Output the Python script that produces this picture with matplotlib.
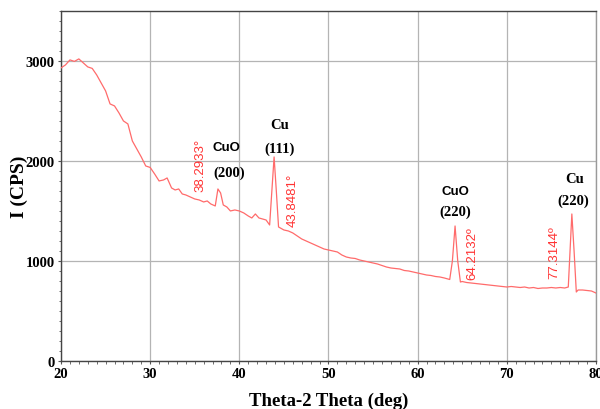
import numpy as np
import matplotlib
matplotlib.use("Agg")
from matplotlib import pyplot as plt
from matplotlib.ticker import MultipleLocator

# XRD pattern (2theta in deg, intensity in CPS)
two_theta = [20.0, 20.5, 21.0, 21.5, 22.0, 22.5, 23.0, 23.5, 24.0, 24.5,
             25.0, 25.5, 26.0, 26.5, 27.0, 27.5, 28.0, 28.5, 29.0, 29.5,
             30.0, 30.5, 31.0, 31.5, 31.9, 32.4, 32.8, 33.2, 33.6, 34.0,
             34.5, 35.0, 35.5, 36.0, 36.4, 36.8, 37.3, 37.6, 37.9, 38.2,
             38.6, 39.0, 39.5, 40.0, 40.5, 41.0, 41.4, 41.8, 42.2, 42.6,
             43.0, 43.4, 43.65, 43.9, 44.15, 44.4, 45.0, 45.5, 46.0, 46.5,
             47.0, 47.5, 48.0, 48.5, 49.0, 49.5, 50.0, 50.5, 51.0, 51.5,
             52.0, 52.5, 53.0, 53.5, 54.0, 54.5, 55.0, 55.5, 56.0, 56.5,
             57.0, 57.5, 58.0, 58.5, 59.0, 59.5, 60.0, 60.5, 61.0, 61.5,
             62.0, 62.5, 63.0, 63.6, 63.9, 64.2, 64.5, 64.8, 65.0, 65.5,
             66.0, 66.5, 67.0, 67.5, 68.0, 68.5, 69.0, 69.5, 70.0, 70.5,
             71.0, 71.5, 72.0, 72.5, 73.0, 73.5, 74.0, 74.5, 75.0, 75.5,
             76.0, 76.5, 76.9, 77.1, 77.3, 77.55, 77.8, 78.0, 78.5, 79.0,
             79.5, 80.0]
intensity = [2930, 2960, 3010, 2995, 3020, 2980, 2940, 2925, 2860, 2780,
             2700, 2570, 2550, 2480, 2400, 2370, 2200, 2120, 2040, 1950,
             1935, 1870, 1800, 1810, 1830, 1730, 1710, 1720, 1670, 1660,
             1640, 1620, 1610, 1590, 1600, 1570, 1550, 1720, 1680, 1560,
             1540, 1500, 1510, 1500, 1480, 1450, 1430, 1470, 1430, 1420,
             1410, 1360, 1700, 2040, 1700, 1340, 1310, 1300, 1280, 1250,
             1220, 1200, 1180, 1160, 1140, 1120, 1110, 1100, 1090, 1060,
             1040, 1030, 1025, 1010, 1000, 990, 980, 970, 955, 940,
             930, 925, 920, 905, 900, 890, 880, 870, 860, 855,
             845, 840, 830, 815, 1000, 1350, 1000, 790, 795, 785,
             780, 775, 770, 765, 760, 755, 750, 745, 740, 745,
             740, 735, 740, 730, 735, 725, 730, 730, 735, 730,
             735, 730, 740, 1100, 1470, 1100, 690, 710, 710, 705,
             700, 680]

peak_labels = ["38.2933\u00b0", "43.8481\u00b0", "64.2132\u00ba", "77.3144\u00ba"]
peak_label_pos = [(35.6, 1970), (46.0, 1620), (66.1, 1080), (75.3, 1090)]

phase_names = ["CuO", "Cu", "CuO", "Cu"]
phase_name_pos = [(38.6, 2140), (44.5, 2360), (64.2, 1700), (77.6, 1820)]
hkl_labels = ["(200)", "(111)", "(220)", "(220)"]
hkl_pos = [(38.9, 1890), (44.5, 2130), (64.2, 1500), (77.5, 1610)]

serif = "Liberation Serif"
sans = "Liberation Sans"

fig = plt.figure(figsize=(6, 4.1), dpi=100)
ax = fig.add_axes([0.1017, 0.117, 0.8915, 0.854])

ax.plot(two_theta, intensity, color="#ff6b6b", lw=0.9, zorder=3)

ax.set_xlim(20, 80)
ax.set_ylim(0, 3500)
ax.xaxis.set_major_locator(MultipleLocator(10))
ax.xaxis.set_minor_locator(MultipleLocator(1))
ax.yaxis.set_major_locator(MultipleLocator(1000))
ax.yaxis.set_minor_locator(MultipleLocator(100))
ax.grid(which="major", color="#b4b4b4", lw=0.9, zorder=0)
ax.tick_params(which="major", length=2.5, width=0.8, color="#555555", pad=2)
ax.tick_params(which="minor", length=1.8, width=0.6, color="#555555")

for lab in ax.get_xticklabels() + ax.get_yticklabels():
    lab.set_fontfamily(serif)
    lab.set_fontweight("bold")
    lab.set_fontsize(10.5)

for s in ax.spines.values():
    s.set_color("#444444")
    s.set_linewidth(1.0)
ax.spines["right"].set_color("#9a9a9a")

ax.set_xlabel("Theta-2 Theta (deg)", fontfamily=serif, fontweight="bold",
              fontsize=13.5, labelpad=8)
ax.set_ylabel("I (CPS)", fontfamily=serif, fontweight="bold", fontsize=14)
ax.yaxis.set_label_coords(-0.062, 0.5)

for txt, (x, y) in zip(peak_labels, peak_label_pos):
    ax.text(x, y, txt, rotation=90, color="#ff3333", fontfamily=sans,
            fontsize=9.5, ha="center", va="center")

for txt, (x, y) in zip(phase_names, phase_name_pos):
    fam = sans if txt == "CuO" else serif
    ax.text(x, y, txt, color="black", fontfamily=fam, fontweight="bold",
            fontsize=9.5 if txt == "CuO" else 10.5, ha="center", va="center")

for txt, (x, y) in zip(hkl_labels, hkl_pos):
    ax.text(x, y, txt, color="black", fontfamily=serif, fontweight="bold",
            fontsize=10.5, ha="center", va="center")

fig.savefig("out.png", dpi=100)
